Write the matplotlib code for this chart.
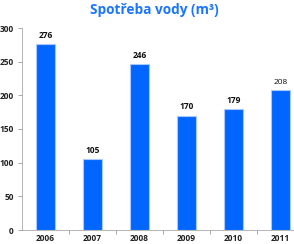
import matplotlib
matplotlib.use("Agg")
import matplotlib.pyplot as plt
import numpy as np

years = ["2006", "2007", "2008", "2009", "2010", "2011"]
values = [276, 105, 246, 170, 179, 208]
bold_labels = [True, True, True, True, True, False]
yticks = [0, 50, 100, 150, 200, 250, 300]

plt.rcParams['font.family'] = ['Open Sans', 'DejaVu Sans']

fig = plt.figure(figsize=(2.94, 2.44), dpi=100)
ax = fig.add_axes([22/294, 14/244, 282/294, 202/244])
x = np.arange(len(years))
bars = ax.bar(x, values, width=0.4, color='#0066ff', edgecolor='#a8c8ff', linewidth=0.8)
for xi, v, b in zip(x, values, bold_labels):
    ax.annotate(str(v), (xi, v), xytext=(0, 3), textcoords='offset points',
                ha='center', va='bottom', fontsize=6,
                fontweight='bold' if b else 'normal', color='#111111')

ax.set_xlim(-0.5, len(years) - 0.5)
ax.set_ylim(0, 300)
ax.set_yticks(yticks)
ax.set_yticklabels([str(t) for t in yticks], fontsize=6, fontweight='bold', color='#222222')
ax.set_xticks(x)
ax.set_xticklabels(years, fontsize=6, fontweight='bold', color='#222222')
ax.set_xticks(np.arange(len(years)) + 0.5, minor=True)
ax.tick_params(axis='x', which='major', length=0, pad=3)
ax.tick_params(axis='x', which='minor', length=3, color='#999999', width=0.6)
ax.tick_params(axis='y', length=3, color='#999999', width=0.6, pad=3)
for s in ['top', 'right']:
    ax.spines[s].set_visible(False)
for s in ['left', 'bottom']:
    ax.spines[s].set_color('#aaaaaa')
    ax.spines[s].set_linewidth(0.6)

fig.text(154/294, 1 - 10/244, "Spotřeba vody (m³)", ha='center', va='center',
         fontsize=9.8, fontweight='bold', color='#1a75ff')

fig.savefig("out.png", dpi=100)
